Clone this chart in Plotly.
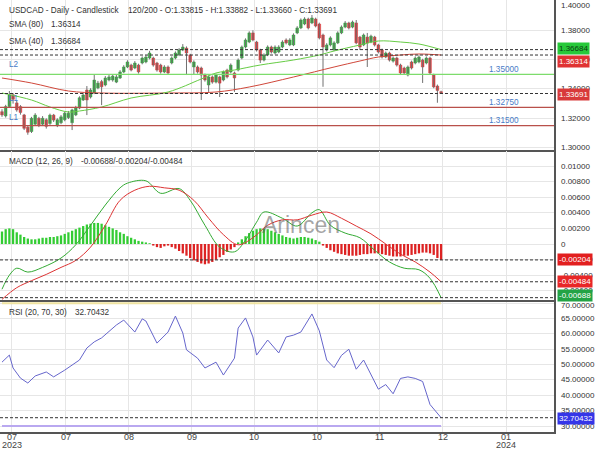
import plotly.graph_objects as go
from plotly.subplots import make_subplots

# ---------------- data ----------------
opens = [1.3245,1.3216,1.3280,1.3360,1.3305,1.3280,1.3223,1.3140,1.3110,1.3160,
         1.3200,1.3160,1.3190,1.3165,1.3222,1.3150,1.3170,1.3190,1.3205,1.3170,
         1.3223,1.3270,1.3325,1.3393,1.3345,1.3373,1.3407,1.3450,1.3427,1.3461,
         1.3461,1.3447,1.3475,1.3516,1.3550,1.3563,1.3543,1.3563,1.3577,1.3584,
         1.3611,1.3611,1.3577,1.3563,1.3516,1.3550,1.3577,1.3611,1.3632,1.3666,
         1.3679,1.3632,1.3550,1.3550,1.3543,1.3495,1.3427,1.3482,1.3447,1.3482,
         1.3461,1.3529,1.3516,1.3509,1.3529,1.3611,1.3686,1.3720,1.3782,1.3720,
         1.3666,1.3597,1.3632,1.3686,1.3645,1.3652,1.3686,1.3734,1.3700,1.3700,
         1.3782,1.3816,1.3843,1.3877,1.3850,1.3877,1.3843,1.3768,1.3666,1.3700,
         1.3666,1.3714,1.3782,1.3822,1.3850,1.3822,1.3850,1.3754,1.3700,1.3754,
         1.3720,1.3754,1.3700,1.3666,1.3618,1.3645,1.3590,1.3611,1.3563,1.3543,
         1.3495,1.3584,1.3577,1.3584,1.3597,1.3577,1.3611,1.3495,1.3420,1.33815]
closes = [1.3223,1.3280,1.3359,1.3330,1.3257,1.3240,1.3132,1.3105,1.3200,1.3222,
          1.3155,1.3200,1.3145,1.3222,1.3188,1.3190,1.3210,1.3235,1.3235,1.3257,
          1.3270,1.3340,1.3359,1.3325,1.3393,1.3461,1.3440,1.3415,1.3475,1.3482,
          1.3488,1.3482,1.3516,1.3550,1.3584,1.3529,1.3577,1.3516,1.3611,1.3618,
          1.3645,1.3563,1.3529,1.3516,1.3550,1.3509,1.3611,1.3645,1.3666,1.3686,
          1.3645,1.3584,1.3584,1.3516,1.3495,1.3461,1.3482,1.3447,1.3495,1.3440,
          1.3516,1.3482,1.3563,1.3475,1.3597,1.3686,1.3734,1.3782,1.3734,1.3666,
          1.3597,1.3632,1.3686,1.3652,1.3686,1.3686,1.3720,1.3714,1.3734,1.3768,
          1.3816,1.3870,1.3877,1.3816,1.3884,1.3829,1.3748,1.3686,1.3700,1.3748,
          1.3714,1.3782,1.3822,1.3850,1.3816,1.3856,1.3714,1.3686,1.3768,1.3714,
          1.3760,1.3700,1.3652,1.3618,1.3645,1.3597,1.3611,1.3563,1.3509,1.3509,
          1.3550,1.3543,1.3611,1.3618,1.3550,1.3611,1.3509,1.3414,1.3390,1.33691]
highs = [1.3262,1.3292,1.3386,1.3372,1.3318,1.3290,1.3230,1.3150,1.3210,1.3235,
         1.3210,1.3215,1.3200,1.3232,1.3230,1.3200,1.3222,1.3245,1.3250,1.3265,
         1.3285,1.3350,1.3372,1.3420,1.3405,1.3500,1.3455,1.3462,1.3488,1.3495,
         1.3498,1.3495,1.3528,1.3562,1.3596,1.3572,1.3590,1.3572,1.3622,1.3630,
         1.3660,1.3620,1.3585,1.3572,1.3562,1.3560,1.3622,1.3656,1.3678,1.3706,
         1.3690,1.3640,1.3595,1.3560,1.3552,1.3505,1.3492,1.3492,1.3505,1.3490,
         1.3526,1.3538,1.3574,1.3518,1.3608,1.3696,1.3745,1.3793,1.3800,1.3728,
         1.3674,1.3643,1.3697,1.3695,1.3697,1.3698,1.3732,1.3745,1.3746,1.3779,
         1.3828,1.3881,1.3889,1.3886,1.3904,1.3886,1.3852,1.3777,1.3712,1.3759,
         1.3725,1.3793,1.3833,1.3863,1.3858,1.3866,1.3870,1.3762,1.3778,1.3782,
         1.3770,1.3762,1.3708,1.3675,1.3655,1.3654,1.3622,1.3620,1.3572,1.3552,
         1.3560,1.3593,1.3622,1.3630,1.3606,1.3622,1.3620,1.3504,1.3430,1.33882]
lows = [1.3210,1.3205,1.3270,1.3300,1.3245,1.3225,1.3120,1.3088,1.3100,1.3150,
        1.3140,1.3150,1.3130,1.3155,1.3175,1.3140,1.3160,1.3180,1.3195,1.3120,
        1.3215,1.3262,1.3318,1.3222,1.3335,1.3365,1.3398,1.3290,1.3418,1.3452,
        1.3450,1.3440,1.3468,1.3508,1.3542,1.3520,1.3535,1.3505,1.3568,1.3575,
        1.3602,1.3552,1.3518,1.3505,1.3508,1.3498,1.3568,1.3602,1.3624,1.3658,
        1.3495,1.3575,1.3500,1.3505,1.3325,1.3450,1.3380,1.3436,1.3438,1.3345,
        1.3452,1.3472,1.3506,1.3380,1.3520,1.3602,1.3676,1.3712,1.3725,1.3655,
        1.3577,1.3588,1.3624,1.3642,1.3636,1.3644,1.3678,1.3704,1.3692,1.3692,
        1.3774,1.3808,1.3835,1.3806,1.3842,1.3820,1.3738,1.3415,1.3656,1.3690,
        1.3658,1.3706,1.3774,1.3814,1.3806,1.3814,1.3705,1.3666,1.3692,1.3550,
        1.3712,1.3690,1.3642,1.3608,1.3610,1.3587,1.3580,1.3553,1.3495,1.3498,
        1.3486,1.3533,1.3568,1.3575,1.3441,1.3568,1.3500,1.3405,1.3306,1.33660]

sma40_idx = [0, 8, 13, 18, 21, 27, 35, 45, 54, 58, 63, 70, 79, 86, 90, 97, 102, 108, 113, 119]
sma40_val = [1.33725,1.33248,1.32771,1.32430,1.32498,1.32771,1.33384,1.33793,1.34680,1.35089,
             1.35293,1.35634,1.35975,1.36316,1.36589,1.36997,1.37270,1.37202,1.37066,1.36684]
sma80_idx = [0, 8, 18, 27, 45, 58, 67, 79, 90, 97, 102, 108, 113, 119]
sma80_val = [1.34748,1.34407,1.33862,1.33725,1.33725,1.33793,1.34134,1.34816,1.35498,1.35907,
             1.36179,1.36316,1.36384,1.36314]

levels_green = [1.35000]
levels_red = [1.32750, 1.31500]
level_labels = ["1.35000", "1.32750", "1.31500"]

macd_idx = [0,2,4,7,11,16,20,24,28,32,34,39,43,48,51,55,59,63,66,69,71,76,80,84,86,89,93,97,101,105,109,113,116,119]
macd_val = [-0.0058,-0.0040,-0.0031,-0.0036,-0.0030,-0.0018,-0.0001,0.0024,0.0050,0.0072,0.0078,0.0081,
            0.0065,0.0071,0.0056,0.0024,-0.0004,-0.0010,0.0005,0.0028,0.0041,0.0033,0.0023,0.0040,
            0.0044,0.0024,0.0014,0.0008,-0.0008,-0.0023,-0.0031,-0.0033,-0.0044,-0.00688]
sig_idx = [0,4,8,12,16,20,24,28,32,36,40,44,48,52,56,60,64,68,72,76,80,84,88,92,96,100,104,108,112,116,119]
sig_val = [-0.0071,-0.0056,-0.0047,-0.0039,-0.0030,-0.0021,-0.0004,0.0024,0.0056,0.0069,0.0074,0.0072,
           0.0069,0.0056,0.0033,0.0012,-0.0001,0.0008,0.0024,0.0031,0.0031,0.0037,0.0041,0.0033,
           0.0023,0.0013,0.0000,-0.0013,-0.0023,-0.0036,-0.00484]
hist_e3 = [1.6,1.9,2.0,1.9,1.5,1.2,
           0.9,0.7,0.6,0.6,0.7,0.8,0.8,0.9,0.9,1.0,1.1,
           1.3,1.5,1.7,1.9,2.1,2.3,2.5,2.6,2.7,2.7,2.6,2.4,2.2,
           2.0,1.8,1.5,1.3,1.0,0.8,0.6,0.4,0.3,0.2,0.1,
           -0.2,-0.4,-0.5,-0.3,-0.2,
           -0.4,-0.6,-0.9,-1.2,-1.5,-1.8,-2.1,-2.3,-2.5,-2.6,-2.5,-2.3,-2.0,-1.7,-1.4,-1.0,-0.7,-0.4,
           0.2,0.6,1.0,1.4,1.7,1.9,2.0,2.0,1.9,1.7,1.5,1.3,1.1,0.9,0.8,0.7,0.8,0.9,0.9,0.8,0.7,0.5,0.3,
           -0.2,-0.5,-0.8,-1.0,-1.2,-1.3,-1.4,-1.5,-1.5,-1.5,-1.4,-1.3,-1.3,-1.2,-1.2,-1.2,-1.3,-1.4,
           -1.5,-1.6,-1.6,-1.6,-1.5,-1.5,-1.4,-1.3,-1.2,-1.1,-1.1,-1.2,-1.4,-1.8,-2.04]

rsi_idx = [0,2,3,5,7,9,12,14,17,21,23,25,27,31,33,36,38,39,42,45,47,49,50,53,55,58,60,63,64,66,68,69,
           72,75,77,79,81,84,86,88,90,92,94,96,98,100,102,104,106,108,110,112,114,116,118,119]
rsi_val = [50.8,53.1,48.9,45.6,44.0,46.3,47.6,46.0,48.2,51.5,55.4,57.4,58.7,62.9,64.5,60.6,64.9,64.2,
           57.0,60.6,65.8,60.3,54.8,52.1,48.9,50.8,46.6,52.1,61.9,65.2,59.0,53.1,58.0,53.8,59.0,59.6,
           60.6,66.5,61.0,51.5,49.0,53.0,55.0,48.5,51.5,47.0,42.0,43.5,40.5,45.5,46.0,45.5,44.5,37.0,
           34.0,32.70432]

tick_idx = [2.6, 17.3, 34.4, 51.4, 68.3, 85.4, 102.4, 119.5, 136.6]
tick_month = ["07", "07", "08", "09", "10", "10", "11", "12", "01"]
tick_year = ["2023", "", "", "", "", "", "", "", "2024"]

price_ticks = [1.30, 1.32, 1.34, 1.36, 1.38, 1.40]
macd_ticks = [-0.006, -0.004, -0.002, 0.0, 0.002, 0.004, 0.006, 0.008, 0.010, 0.012]
rsi_ticks = [30, 35, 40, 45, 50, 55, 60, 65, 70]

# ---------------- figure ----------------
W, H = 600, 450
ML, MR, MT, MB = 0, 46, 0, 18
PW, PH = W - ML - MR, H - MT - MB

def px_x(x):
    return (x - ML) / PW

def px_y(y):
    return (PH - (y - MT)) / PH

fig = make_subplots(rows=3, cols=1, shared_xaxes=True, vertical_spacing=0)

GREEN = "#2fa83a"
RED = "#d8393a"
n = len(closes)
idx = list(range(n))

# wicks
wx, wy = [], []
for i in idx:
    wx += [i, i, None]
    wy += [lows[i], highs[i], None]
fig.add_trace(go.Scatter(x=wx, y=wy, mode="lines", line=dict(color="#707070", width=1),
                         hoverinfo="skip", showlegend=False), row=1, col=1)
body_col = [GREEN if closes[i] >= opens[i] else RED for i in idx]
fig.add_trace(go.Bar(x=idx, y=[closes[i] - opens[i] for i in idx], base=opens, width=0.72,
                     marker=dict(color=body_col, line=dict(color=body_col, width=0.5)),
                     showlegend=False), row=1, col=1)
fig.add_trace(go.Scatter(x=sma80_idx, y=sma80_val, mode="lines", line=dict(color="#d0473a", width=1, shape="spline"),
                         showlegend=False), row=1, col=1)
fig.add_trace(go.Scatter(x=sma40_idx, y=sma40_val, mode="lines", line=dict(color="#66cc44", width=1, shape="spline"),
                         showlegend=False), row=1, col=1)

DASH = "3px,2px"
for v in levels_green:
    fig.add_hline(y=v, line=dict(color="#7ddc6c", width=1.2), row=1, col=1)
for v in levels_red:
    fig.add_hline(y=v, line=dict(color="#b9504a", width=1.2), row=1, col=1)
for v in [sma40_val[-1], sma80_val[-1], closes[-1]]:
    fig.add_hline(y=v, line=dict(color="#333333", width=1, dash=DASH), row=1, col=1)

# MACD
hist = [h / 1000 for h in hist_e3]
fig.add_trace(go.Bar(x=idx, y=hist, width=0.62,
                     marker=dict(color=["#33cc33" if h >= 0 else "#dd2222" for h in hist], line=dict(width=0)),
                     showlegend=False), row=2, col=1)
fig.add_trace(go.Scatter(x=macd_idx, y=macd_val, mode="lines", line=dict(color="#33aa33", width=1, shape="spline"),
                         showlegend=False), row=2, col=1)
fig.add_trace(go.Scatter(x=sig_idx, y=sig_val, mode="lines", line=dict(color="#dd3333", width=1, shape="spline"),
                         showlegend=False), row=2, col=1)
for v in [hist[-1], sig_val[-1], macd_val[-1]]:
    fig.add_hline(y=v, line=dict(color="#333333", width=1, dash=DASH), row=2, col=1)

# RSI
fig.add_trace(go.Scatter(x=[0, n - 1], y=[70, 70], mode="lines", line=dict(color="#efe3a0", width=2),
                         showlegend=False), row=3, col=1)
fig.add_trace(go.Scatter(x=[0, n - 1], y=[30, 30], mode="lines", line=dict(color="#b9a8f0", width=2),
                         showlegend=False), row=3, col=1)
fig.add_trace(go.Scatter(x=rsi_idx, y=rsi_val, mode="lines", line=dict(color="#6666cc", width=1),
                         showlegend=False), row=3, col=1)
fig.add_hline(y=rsi_val[-1], line=dict(color="#333333", width=1, dash=DASH), row=3, col=1)

# axes
xr = [-0.54, 149.6]
for r in (1, 2, 3):
    fig.update_xaxes(row=r, col=1, range=xr, tickvals=tick_idx, showticklabels=False,
                     showgrid=True, gridcolor="#e6e6e6", gridwidth=1, zeroline=False,
                     showline=True, linecolor="#555555", linewidth=1.5, ticks="",
                     rangeslider=dict(visible=False))
fig.update_layout(
    xaxis=dict(domain=[0, 1]),
    yaxis=dict(domain=[px_y(150), 1.0], range=[1.29840, 1.40065], tickvals=price_ticks),
    yaxis2=dict(domain=[px_y(300), px_y(151)], range=[-0.007179, 0.011923], tickvals=macd_ticks),
    yaxis3=dict(domain=[0, px_y(302)], range=[28.05, 70.39], tickvals=rsi_ticks),
)
for r in (1, 2, 3):
    fig.update_yaxes(row=r, col=1, side="right", showgrid=True, gridcolor="#e6e6e6", zeroline=False,
                     showline=True, linecolor="#555555", linewidth=1.5, ticks="", showticklabels=False)

ann = []
FONT = "Liberation Sans, Arial, sans-serif"

def text(x, y, s, size=8.2, color="#333333", anchor="left"):
    ann.append(dict(xref="paper", yref="paper", x=px_x(x), y=px_y(y), text=s, showarrow=False,
                    xanchor=anchor, yanchor="middle", font=dict(size=size, color=color, family=FONT)))

# right axis tick labels
def ytick(yref, v, s, yshift=0):
    ann.append(dict(xref="paper", yref=yref, x=1.0, y=v, text=s, showarrow=False, xanchor="left",
                    yanchor="middle", xshift=5, yshift=yshift,
                    font=dict(size=8, color="#333333", family=FONT)))

for v in price_ticks:
    ytick("y", v, "%.5f" % v, yshift=(-5 if v == 1.40 else 0))
for v in macd_ticks:
    ytick("y2", v, "0" if v == 0 else "%.5f" % v, yshift=(-3 if v == 0.012 else 0))
for v in rsi_ticks:
    ytick("y3", v, "%.5f" % v, yshift=(-2 if v == 70 else 0))

# bottom tick labels
for t, m, yv in zip(tick_idx, tick_month, tick_year):
    ann.append(dict(xref="x3", yref="paper", x=t, y=px_y(437), text=m, showarrow=False,
                    xanchor="center", yanchor="middle", font=dict(size=9, color="#444444", family=FONT)))
    if yv:
        ann.append(dict(xref="x3", yref="paper", x=t, y=px_y(445), text=yv, showarrow=False,
                        xanchor="center", yanchor="middle", font=dict(size=9, color="#444444", family=FONT)))

text(7, 11, "USDCAD - Daily - Candlestick")
text(126, 11, "120/200 - O:1.33815 - H:1.33882 - L:1.33660 - C:1.33691")
text(7, 25, "SMA (80)")
text(49, 25, "1.36314")
text(7, 41, "SMA (40)")
text(49, 41, "1.36684")
text(7, 65, "L2", color="#4a7cc7")
text(7, 98, "L1", color="#4a7cc7")
text(7, 117, "L1", color="#4a7cc7")
text(504, 69, level_labels[0], color="#4a7cc7", anchor="center")
text(504, 102, level_labels[1], color="#4a7cc7", anchor="center")
text(504, 121, level_labels[2], color="#4a7cc7", anchor="center")
text(7, 161, "MACD (12, 26, 9)")
text(79, 161, "-0.00688/-0.00204/-0.00484")
text(7, 312, "RSI (20, 70, 30)")
text(73, 312, "32.70432")
ann.append(dict(xref="paper", yref="paper", x=px_x(301), y=px_y(225), text="Arincen", showarrow=False,
                font=dict(size=23, color="rgba(90,90,90,0.55)", family=FONT)))

def box(yref, v, s, bg, fg="white", yshift=0):
    ann.append(dict(xref="paper", yref=yref, x=1.0, y=v, text=s, showarrow=False, xanchor="left",
                    yanchor="middle", xshift=3, yshift=yshift, bgcolor=bg, borderpad=1,
                    font=dict(size=8, color=fg, family=FONT)))

box("y", sma40_val[-1], "1.36684", "#27c93a", fg="#0b3d10", yshift=1)
box("y", sma80_val[-1], "1.36314", "#e03333", yshift=-6)
box("y", closes[-1], "1.33691", "#d83a3a", yshift=-0.5)
box("y2", hist[-1], "-0.00204", "#e21f1f")
box("y2", sig_val[-1], "-0.00484", "#e82727")
box("y2", macd_val[-1], "-0.00688", "#23a345", yshift=2)
box("y3", rsi_val[-1], "32.70432", "#3535e8", yshift=-1)

fig.update_layout(width=W, height=H, margin=dict(l=ML, r=MR, t=MT, b=MB),
                  paper_bgcolor="white", plot_bgcolor="white", barmode="overlay",
                  showlegend=False, annotations=ann, font=dict(family=FONT))

fig.write_html("out.html", config={"displayModeBar": False, "staticPlot": True},
               post_script="document.body.style.margin='0';document.body.style.overflow='hidden';")
